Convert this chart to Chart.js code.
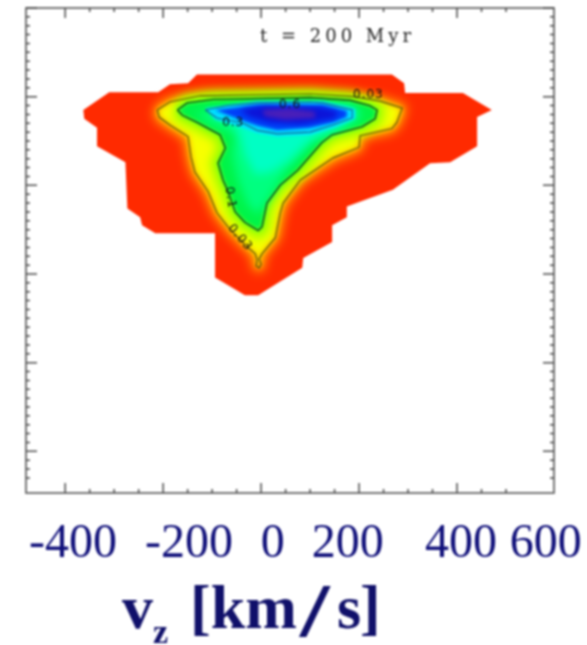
<!DOCTYPE html>
<html>
<head>
<meta charset="utf-8">
<title>t = 200 Myr</title>
<script src="https://cdn.jsdelivr.net/npm/chart.js@4"></script>
<style>
    html, body { margin: 0; padding: 0; background: #fff; overflow: hidden; }
    canvas { display: block; filter: blur(0.8px); }
</style>
</head>
<body>
<canvas id="myChart" width="587" height="645"></canvas>
<script>
// everything is [vz, z]
var outerEdge = [[-131,0.25],[-149,0.15],[-186,0.14],[-210,0.05],[-310,0.05],[-363,-0.15],[-361,-0.25],[-335,-0.35],[-335,-0.56],[-277,-0.74],[-273,-1.26],[-247,-1.36],[-243,-1.45],[-216,-1.54],[-94,-1.54],[-94,-2.04],[-33,-2.24],[-6,-2.24],[84,-1.93],[86,-1.82],[145,-1.64],[145,-1.45],[175,-1.36],[175,-1.24],[269,-1.05],[345,-0.75],[386,-0.74],[441,-0.56],[441,-0.23],[471,-0.15],[412,0.04],[294,0.04],[292,0.15],[267,0.25]];
var contour003 = [[-212,-0.15],[-186,-0.06],[-124,0.01],[100,0.03],[188,0.0],[243,-0.05],[288,-0.13],[277,-0.29],[267,-0.36],[202,-0.44],[200,-0.57],[147,-0.69],[80,-0.94],[45,-1.20],[39,-1.31],[29,-1.59],[2,-1.77],[-4,-1.83],[0,-1.89],[-4,-1.93],[-10,-1.91],[-8,-1.84],[-12,-1.77],[-29,-1.69],[-63,-1.50],[-90,-1.31],[-108,-1.07],[-135,-0.85],[-143,-0.68],[-149,-0.45],[-186,-0.32],[-208,-0.23]];
var contour01 = [[-171,-0.15],[-151,-0.07],[-98,-0.03],[100,-0.01],[182,-0.04],[222,-0.10],[237,-0.15],[233,-0.25],[206,-0.34],[145,-0.43],[124,-0.52],[75,-0.83],[39,-1.0],[12,-1.20],[2,-1.47],[-6,-1.51],[-33,-1.42],[-53,-1.30],[-69,-1.05],[-78,-0.94],[-88,-0.75],[-73,-0.58],[-84,-0.43],[-131,-0.29],[-161,-0.21]];
var contour03 = [[-114,-0.15],[-69,-0.10],[-8,-0.07],[100,-0.06],[126,-0.07],[186,-0.15],[186,-0.24],[147,-0.32],[100,-0.40],[33,-0.42],[-8,-0.38],[-37,-0.30],[-90,-0.24]];
var springBand = [[-135,-0.18],[-63,-0.13],[161,-0.13],[206,-0.17],[192,-0.29],[131,-0.39],[100,-0.54],[49,-0.85],[14,-1.16],[-6,-1.33],[-27,-1.22],[-47,-0.94],[-59,-0.66],[-53,-0.43],[-104,-0.29]];
var aquaBand = [[-73,-0.15],[171,-0.10],[198,-0.17],[161,-0.35],[100,-0.49],[59,-0.71],[22,-0.85],[-12,-0.88],[-33,-0.66],[-43,-0.43],[-53,-0.32]];
var cyanBand = [[-114,-0.13],[-8,-0.05],[126,-0.05],[192,-0.14],[192,-0.25],[147,-0.35],[100,-0.43],[33,-0.45],[-8,-0.41],[-43,-0.34],[-94,-0.26]];
var blueBand = [[-94,-0.15],[-8,-0.09],[126,-0.09],[175,-0.16],[175,-0.23],[147,-0.29],[100,-0.35],[33,-0.38],[-6,-0.33],[-43,-0.26]];
var deepBand = [[-43,-0.15],[8,-0.10],[120,-0.12],[157,-0.17],[151,-0.24],[80,-0.31],[18,-0.29],[-22,-0.23]];
var peakBand = [[2,-0.15],[59,-0.13],[110,-0.17],[110,-0.24],[49,-0.26],[8,-0.22]];

var tickLabels = ['-400', '-200', '0', '200', '400', '600'];
var tickLabelAt = [-384, -147, 24, 177, 408, 581];
var contourLabels = ['0.03', '0.3', '0.6', '0.1', '0.03'];
var contourLabelAt = [[219,0.02],[-57,-0.29],[59,-0.09],[-63,-1.14],[-43,-1.59]];
var contourLabelTurn = [0, 0, 0, 82, 50];

function toPoints(list) {
    var pts = list.map(function (p) { return { x: p[0], y: p[1] }; });
    pts.push({ x: list[0][0], y: list[0][1] });
    return pts;
}
function band(list, color, blur, grow) {
    return { data: toPoints(list), showLine: true, pointRadius: 0, borderWidth: grow || 0, borderColor: color, fill: 'shape', backgroundColor: color, blur: blur };
}
function line(list, color, width) {
    return { data: toPoints(list), showLine: true, pointRadius: 0, borderWidth: width, borderColor: color, fill: false, blur: 0 };
}

// chart draws from the last dataset to the first, so top layer goes first
var datasets = [
    line(contour03, '#146a90', 1.1),
    line(contour01, '#0e4c18', 1.4),
    line(contour003, '#5e5808', 1.2),
    band(peakBand, '#4a1fb8', 2),
    band(deepBand, '#0c14d8', 2.5),
    band(blueBand, '#0040f8', 1.5),
    band(cyanBand, '#00e0ff', 1.2),
    band(aquaBand, '#00ffc4', 5),
    band(springBand, '#00ff80', 5),
    band(contour01, '#00f448', 2),
    band(contour01, '#a0ff00', 5, 16),
    band(contour003, '#f8ff00', 3),
    band(contour003, '#ffa000', 6, 8),
    band(outerEdge, '#ff2a00', 0)
];

function setBlur(chart, index) {
    var ds = chart.data.datasets[index];
    chart.ctx.filter = ds && ds.blur ? 'blur(' + ds.blur + 'px)' : 'none';
}

var blurPlugin = {
    id: 'blurPlugin',
    beforeDatasetsDraw: function (chart) { setBlur(chart, chart.data.datasets.length - 1); },
    afterDatasetDraw: function (chart, args) { setBlur(chart, args.index - 1); },
    afterDatasetsDraw: function (chart) { chart.ctx.filter = 'none'; }
};

var framePlugin = {
    id: 'framePlugin',
    afterDraw: function (chart) {
        var ctx = chart.ctx, a = chart.chartArea, sx = chart.scales.x, sy = chart.scales.y;
        ctx.save();
        ctx.strokeStyle = '#4a4a4a';
        ctx.lineWidth = 1.5;
        ctx.strokeRect(a.left, a.top, a.right - a.left, a.bottom - a.top);

        sx.ticks.forEach(function (t) {
            if (t.value % 50 !== 0) return;
            var px = sx.getPixelForValue(t.value);
            var len = t.value % 200 === 0 ? 10 : 4;
            ctx.beginPath();
            ctx.moveTo(px, a.bottom); ctx.lineTo(px, a.bottom - len);
            ctx.moveTo(px, a.top); ctx.lineTo(px, a.top + len);
            ctx.stroke();
        });
        sy.ticks.forEach(function (t) {
            var tenth = Math.round(t.value * 10);
            if (Math.abs(t.value * 10 - tenth) > 0.001) return;
            var py = sy.getPixelForValue(t.value);
            var len = tenth % 10 === 0 ? 11 : 4;
            ctx.beginPath();
            ctx.moveTo(a.left, py); ctx.lineTo(a.left + len, py);
            ctx.moveTo(a.right, py); ctx.lineTo(a.right - len, py);
            ctx.stroke();
        });

        // small labels sitting on the contours
        ctx.fillStyle = '#111';
        ctx.font = '12px "DejaVu Sans"';
        ctx.letterSpacing = '1px';
        ctx.textAlign = 'center';
        ctx.textBaseline = 'middle';
        contourLabels.forEach(function (txt, i) {
            ctx.save();
            ctx.translate(sx.getPixelForValue(contourLabelAt[i][0]), sy.getPixelForValue(contourLabelAt[i][1]));
            ctx.rotate(contourLabelTurn[i] * Math.PI / 180);
            ctx.fillText(txt, 0, 0);
            ctx.restore();
        });

        // panel label
        ctx.fillStyle = '#222';
        ctx.font = '18px "DejaVu Serif"';
        ctx.textAlign = 'left';
        ctx.letterSpacing = '4px';
        ctx.fillText('t = 200 Myr', 260, 37);
        ctx.letterSpacing = '0px';

        // slide labels underneath, they do not line up with the ticks
        ctx.fillStyle = '#10107a';
        ctx.font = '48px "Liberation Serif"';
        ctx.textAlign = 'center';
        ctx.textBaseline = 'alphabetic';
        tickLabels.forEach(function (txt, i) {
            ctx.fillText(txt, sx.getPixelForValue(tickLabelAt[i]), 557);
        });

        ctx.textAlign = 'left';
        ctx.fillStyle = '#10106a';
        ctx.font = 'bold 62px "Liberation Serif"';
        ctx.fillText('v', 122, 628);
        ctx.fillText('[km', 190, 628);
        ctx.fillText('s', 337, 628);
        ctx.fillText(']', 360, 628);
        ctx.font = 'bold 34px "Liberation Serif"';
        ctx.fillText('z', 153, 643);
        // the slash is stretched wide on the slide
        ctx.save();
        ctx.translate(300, 636);
        ctx.scale(1.4, 1);
        ctx.font = 'bold 76px "Liberation Serif"';
        ctx.fillText('/', 0, 0);
        ctx.restore();
        ctx.restore();
    }
};

var chart = new Chart(document.getElementById('myChart').getContext('2d'), {
    type: 'scatter',
    data: { datasets: datasets },
    options: {
        responsive: false,
        animation: false,
        layout: { padding: { left: 26, right: 33, top: 8, bottom: 152 } },
        plugins: { legend: { display: false }, tooltip: { enabled: false } },
        scales: {
            x: {
                min: -480, max: 598,
                ticks: { display: false, stepSize: 50, autoSkip: false, maxTicksLimit: 100 },
                grid: { display: false, drawTicks: false },
                border: { display: false }
            },
            y: {
                min: -4.47, max: 1,
                ticks: { display: false, stepSize: 0.1, autoSkip: false, maxTicksLimit: 100 },
                grid: { display: false, drawTicks: false },
                border: { display: false }
            }
        }
    },
    plugins: [blurPlugin, framePlugin]
});
</script>
</body>
</html>
